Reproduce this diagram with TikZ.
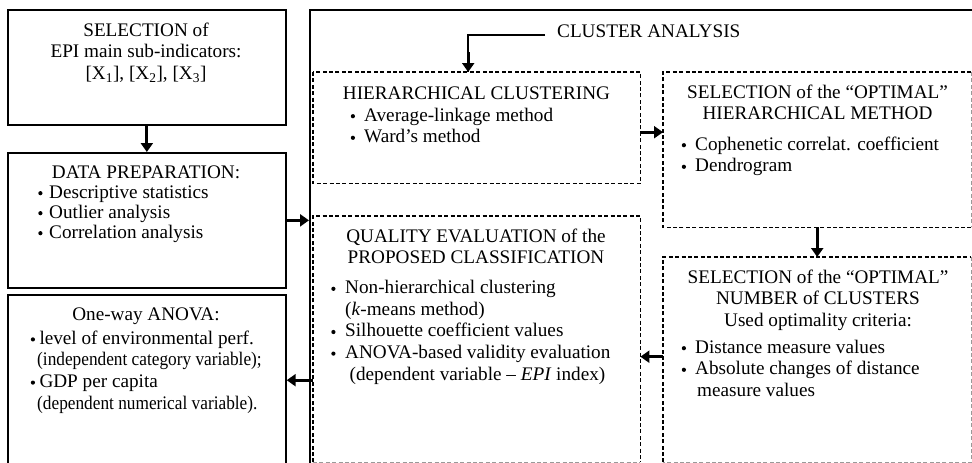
\documentclass[tikz,border=0pt]{standalone}
\usepackage{fontspec}
\setmainfont{Liberation Serif}
\newfontfamily\condfont[FakeStretch=0.9]{Liberation Serif}
\usetikzlibrary{arrows.meta}
\newcommand\bul[1][14pt]{\makebox[#1][l]{\hspace{0.6pt}\tikz[baseline=-4.8pt]\fill (0pt,0pt) circle (2.1pt);}}
\newcommand\smallpar[1]{{\condfont #1}}
\begin{document}
\begin{tikzpicture}[x=1pt,y=-1pt,
  sbox/.style={draw=black, line width=1.7pt, anchor=north west, inner sep=0pt, fill=none},
  dbox/.style={anchor=north west, inner sep=0pt, draw=none},
  dedge/.style={line width=1.4pt, dash pattern=on 4pt off 2.4pt},
  gedge/.style={dedge, draw=black!40},
  txt/.style={inner sep=0pt, font=\fontsize{19.2}{21.6}\selectfont},
  arr/.style={line width=2.8pt, -{Triangle[length=9pt,width=12pt]}}]
\useasboundingbox (0,0) rectangle (972,463);
\clip (0,0) rectangle (972,463);
\fill[white] (0,0) rectangle (972,463);
% left boxes
\node[sbox, minimum width=278pt, minimum height=115pt] (b1) at (7,9) {};
\node[sbox, minimum width=278pt, minimum height=135pt] (b2) at (7,152) {};
\node[sbox, minimum width=278pt, minimum height=200pt] (b3) at (7,294) {};
% outer cluster analysis box
\node[sbox, minimum width=700pt, minimum height=500pt] (outer) at (309,9) {};
% dashed boxes
\node[dbox, minimum width=327pt, minimum height=111pt] (hc) at (313,72) {};
\node[dbox, minimum width=327pt, minimum height=246pt] (q) at (313,216) {};
\node[dbox, minimum width=308pt, minimum height=155pt] (om) at (663,72) {};
\node[dbox, minimum width=308pt, minimum height=205pt] (nc) at (663,257) {};
\draw[dedge] (hc.north west) rectangle (hc.south east);
\draw[dedge] (q.south west) -- (q.north west) -- (q.north east) -- (q.south east);
\draw[gedge] (q.south west) -- (q.south east);
\draw[dedge] (om.south east) -- (om.south west) -- (om.north west) -- (om.north east);
\draw[gedge] (om.north east) -- (om.south east);
\draw[dedge] (nc.south west) -- (nc.north west) -- (nc.north east);
\draw[gedge] (nc.north east) -- (nc.south east) -- (nc.south west);
% texts (anchor base = baseline of the LAST line)
\node[txt, align=center, anchor=base] (t1) at (146,79.2) {SELECTION of\\EPI main sub-indicators:\\{}[X\textsubscript{1}], [X\textsubscript{2}], [X\textsubscript{3}]};
\node[txt, anchor=base] (t2) at (146,178) {DATA PREPARATION:};
\node[txt, font=\fontsize{19.2}{20}\selectfont, align=left, anchor=base west] (l2) at (37.5,238) {\bul[11.5pt]Descriptive statistics\\\bul[11.5pt]Outlier analysis\\\bul[11.5pt]Correlation analysis};
\node[txt, anchor=base] (t3) at (146,320) {One-way ANOVA:};
\node[txt, align=left, anchor=base west] (l3) at (30,409) {\bul[9.3pt]level of environmental perf.\\\hspace*{7pt}\smallpar{(independent category variable);}\\\bul[9.3pt]GDP per capita\\\hspace*{7pt}\smallpar{(dependent numerical variable).}};
\node[txt, anchor=base west] (ca) at (557,37) {CLUSTER ANALYSIS};
\node[txt, anchor=base] (thc) at (476.5,99) {HIERARCHICAL CLUSTERING};
\node[txt, align=left, anchor=base west] (lhc) at (350,142.6) {\bul Average-linkage method\\\bul Ward’s method};
\node[txt, align=center, anchor=base] (tom) at (817.5,119.6) {SELECTION of the “OPTIMAL”\\HIERARCHICAL METHOD};
\node[txt, align=left, anchor=base west] (lom) at (681,171.6) {\bul Cophenetic correlat. coefficient\\\bul Dendrogram};
\node[txt, align=center, anchor=base] (tnc) at (818,326.2) {SELECTION of the “OPTIMAL”\\NUMBER of CLUSTERS\\Used optimality criteria:};
\node[txt, align=left, anchor=base west] (lnc) at (681,396.2) {\bul Distance measure values\\\bul Absolute changes of distance\\\hspace*{16pt}measure values};
\node[txt, align=center, anchor=base] (tq) at (476,263.6) {QUALITY EVALUATION of the\\PROPOSED CLASSIFICATION};
\node[txt, align=left, anchor=base west] (lq) at (330.5,380) {\bul[14.5pt]Non-hierarchical clustering\\\hspace*{14.5pt}(\textit{k}-means method)\\\bul[14.5pt]Silhouette coefficient values\\\bul[14.5pt]ANOVA-based validity evaluation\\\hspace*{19pt}(dependent variable – \textit{EPI} index)};
% connectors
\coordinate (caL) at (545,35);
\draw[arr] (b1) -- (b2);
\draw[arr] (b2.east) -- (b2.east -| outer.west);
\draw[arr] ([yshift=-41pt]q.west) -- ([yshift=-41pt]q.west -| b3.east);
\draw[arr] ([yshift=-4.5pt]hc.east) -- ([yshift=-4.5pt]hc.east -| om.west);
\draw[arr] (om) -- (nc);
\draw[arr] ([yshift=3pt]nc.west) -- ([yshift=3pt]nc.west -| q.east);
\draw[line width=1.6pt] (caL) -| ([xshift=-8.5pt]hc.north);
\draw[arr] ([xshift=-8.5pt,yshift=20pt]hc.north) -- ([xshift=-8.5pt]hc.north);
\end{tikzpicture}
\end{document}
